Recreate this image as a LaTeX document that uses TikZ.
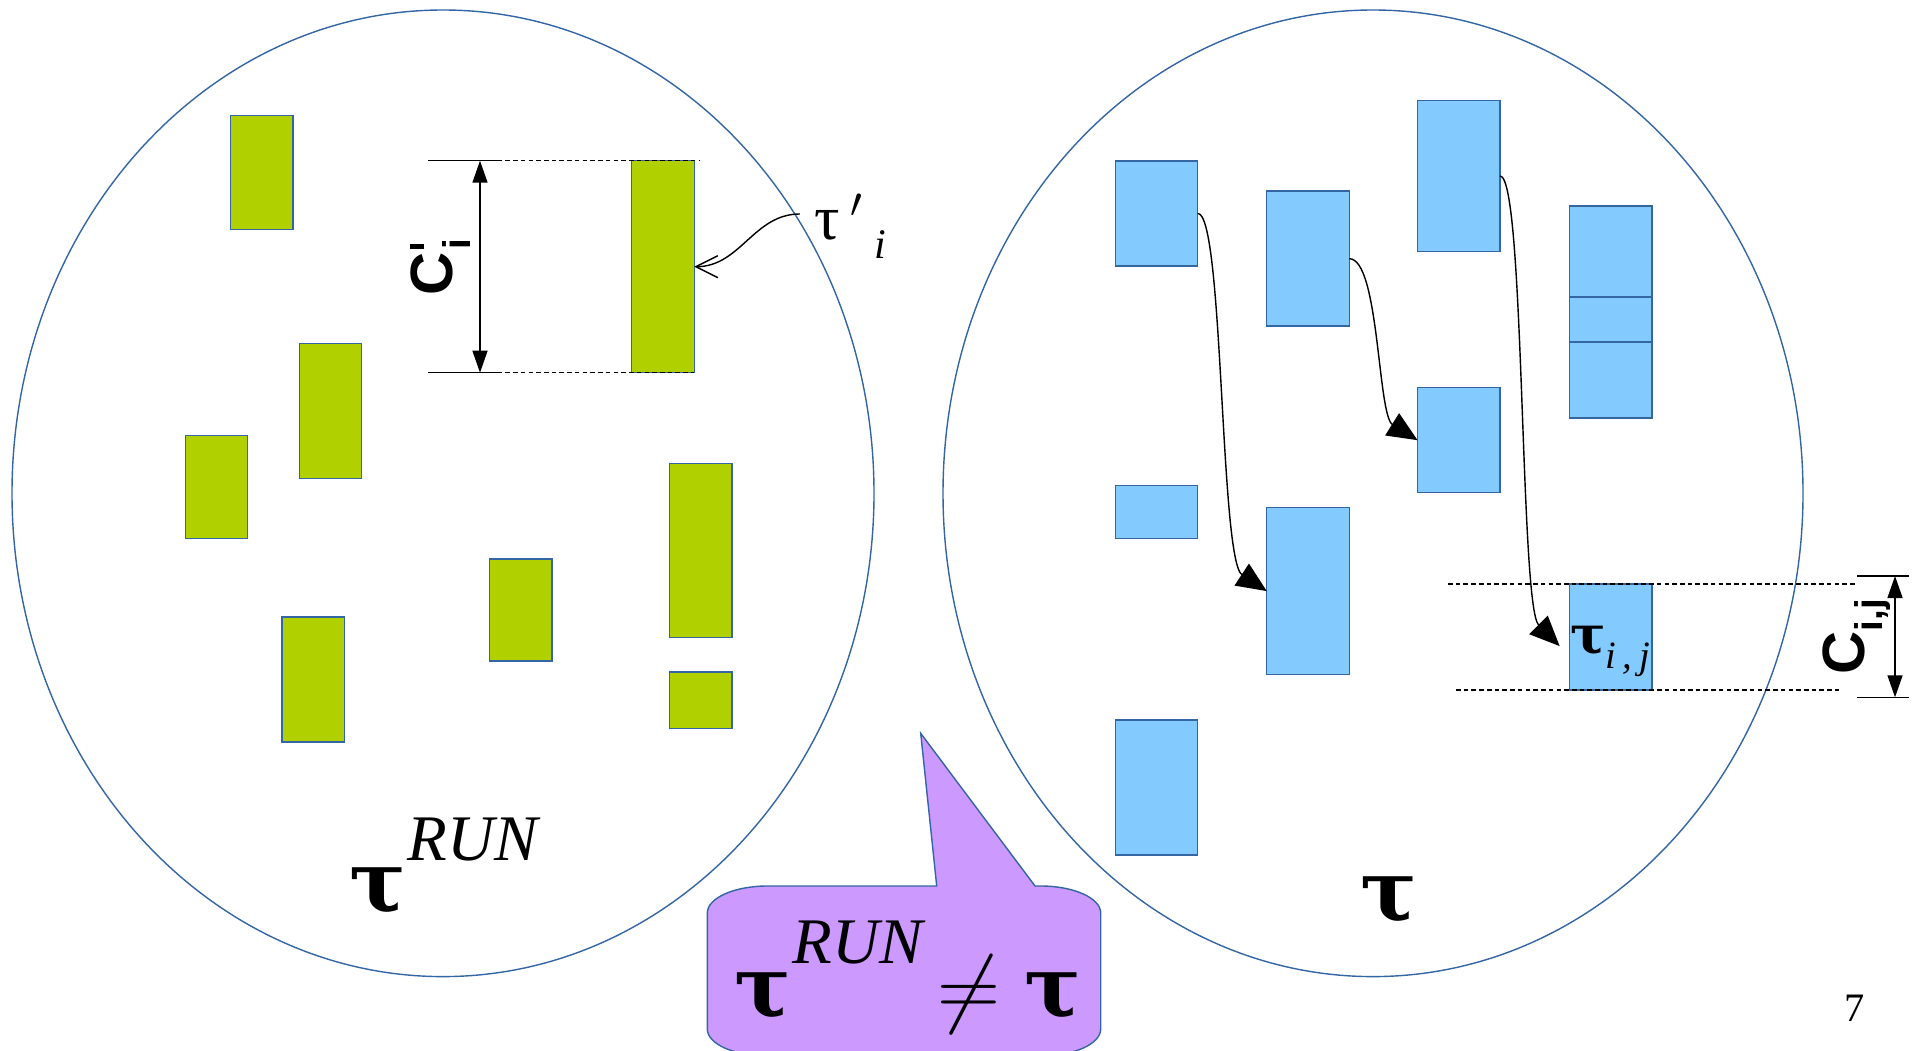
\documentclass[tikz,border=0pt]{standalone}
\usepackage{fontspec}
\setmainfont{Liberation Serif}
\setsansfont{Liberation Sans}
\newfontfamily\taufont{DejaVu Serif}
\usetikzlibrary{arrows.meta,positioning}
\definecolor{edge}{HTML}{3465A4}
\definecolor{leaf}{HTML}{B0D000}
\definecolor{sky}{HTML}{83CAFF}
\definecolor{lilac}{HTML}{CC99FF}

\begin{document}
\begin{tikzpicture}[
  gbox/.style={draw=edge,fill=leaf,minimum width=6.25mm,inner sep=0pt,outer sep=0pt},
  bbox/.style={draw=edge,fill=sky,minimum width=8.25mm,inner sep=0pt,outer sep=0pt},
  guide/.style={dash pattern=on 1.3pt off 0.9pt},
  flow/.style={-{Triangle[length=3mm,width=2.6mm]}},
  dim/.style={{Triangle[length=2.2mm,width=1.5mm]}-{Triangle[length=2.2mm,width=1.5mm]}}]
  \useasboundingbox (0,0) rectangle (19.23,10.5);
  % the two sets
  \draw[edge] (4.43,5.567) ellipse [x radius=4.31,y radius=4.833];
  \draw[edge] (13.73,5.567) ellipse [x radius=4.30,y radius=4.833];

  % green jobs
  \node[gbox,minimum height=11.4mm] (g1) at (2.619,8.777) {};
  \node[gbox,minimum height=21.2mm] (g2) at (6.63,7.833) {};
  \node[gbox,minimum height=13.5mm] (g3) at (3.305,6.392) {};
  \node[gbox,minimum height=10.3mm] (g4) at (2.165,5.631) {};
  \node[gbox,minimum height=17.4mm] (g5) at (7.009,4.994) {};
  \node[gbox,minimum height=10.2mm] (g6) at (5.206,4.399) {};
  \node[gbox,minimum height=12.5mm] (g7) at (3.134,3.706) {};
  \node[gbox,minimum height=5.65mm] (g8) at (7.009,3.497) {};

  % blue jobs
  \node[bbox,minimum height=10.5mm] (b1) at (11.565,8.366) {};
  \node[bbox,minimum height=13.5mm] (b2) at (13.08,7.913) {};
  \node[bbox,minimum height=15.1mm] (b3) at (14.588,8.74) {};
  \node[bbox,minimum height=9.1mm] (b4) at (16.109,7.985) {};
  \node[bbox,minimum height=4.5mm,below=0pt of b4] (b4m) {};
  \node[bbox,minimum height=7.6mm,below=0pt of b4m] (b4l) {};
  \node[bbox,minimum height=10.5mm] (b5) at (14.588,6.098) {};
  \node[bbox,minimum height=5.3mm] (b6) at (11.565,5.38) {};
  \node[bbox,minimum height=16.7mm] (b7) at (13.08,4.589) {};
  \node[bbox,minimum height=10.6mm] (b8) at (16.109,4.129) {};
  \node[bbox,minimum height=13.5mm] (b9) at (11.565,2.627) {};

  \draw[flow] (b1.east) .. controls +(0.26,0) and +(-0.47,0.31) .. (b7.west);
  \draw[flow] (b2.east) .. controls +(0.3,0) and +(-0.4,0.25) .. (b5.west);
  \draw[flow] (b3.east) .. controls +(0.25,0) and +(-0.4,0.4) .. ([xshift=-1mm,yshift=-0.9mm]b8.west);

  % C'_i
  \draw[guide] (4.28,0 |- g2.north) -- (6.99,0 |- g2.north);
  \draw[guide] (4.28,0 |- g2.south) -- (g2.south east);
  \draw (4.28,0 |- g2.north) -- ++(0.7,0);
  \draw (4.28,0 |- g2.south) -- ++(0.7,0);
  \draw[dim] (4.8,0 |- g2.north) -- (4.8,0 |- g2.south);
  \node[rotate=90,font=\sffamily\bfseries\fontsize{17}{17}\selectfont] (ci) at (4.40,7.83)
    {C\kern1pt\rlap{\rule[0.47em]{0.09em}{0.25em}}\raisebox{-0.3em}{\fontsize{11}{11}\selectfont i}};
  \node[font=\fontsize{18}{18}\selectfont] (tg2) at (8.50,8.24) {τ\,$'$\,\raisebox{-0.3em}{\fontsize{12}{12}\selectfont\itshape i}};
  \draw[-{Straight Barb[length=2.2mm,width=2.2mm]}] ([shift={(-0.2mm,1.2mm)}]tg2.west) to[out=180,in=0] (g2.east);

  % C_ij
  \draw[guide] (14.48,0 |- b8.north) -- (18.55,0 |- b8.north);
  \draw[guide] (14.56,0 |- b8.south) -- (18.42,0 |- b8.south);
  \draw (18.57,4.74) -- (19.09,4.74);
  \draw (18.57,3.527) -- (19.09,3.527);
  \draw[dim] (18.95,4.74) -- (18.95,3.527);
  \node[rotate=90,font=\sffamily\bfseries\fontsize{17}{17}\selectfont] (cij) at (18.57,4.135)
    {C\raisebox{-0.3em}{\fontsize{11}{11}\selectfont i,j}};
  \node[anchor=base,font=\fontsize{15}{15}\selectfont] (tb8) at (16.10,3.97)
    {{\taufont\bfseries τ}\raisebox{-0.3em}{\fontsize{11}{11}\selectfont\itshape i\,,\,j}};

  % set names
  \node[anchor=base west,font=\fontsize{24}{28}\selectfont] (run) at (3.37,1.383)
    {{\taufont\bfseries τ}\kern0.5pt\raisebox{14.7pt}{\fontsize{18.5}{20}\selectfont\itshape RUN}};
  \node[anchor=base,font=\fontsize{24}{28}\selectfont] (tset) at (13.89,1.30) {{\taufont\bfseries τ}};

  % callout
  \draw[edge,fill=lilac] (7.073,0.21) -- (7.073,1.37)
    arc[start angle=180,end angle=90,x radius=0.6,y radius=0.27] -- (9.367,1.64)
    -- (9.207,3.167) -- (10.35,1.64) -- (10.407,1.64)
    arc[start angle=90,end angle=0,x radius=0.6,y radius=0.27] -- (11.007,0.21)
    arc[start angle=0,end angle=-90,x radius=0.6,y radius=0.27] -- (7.673,-0.06)
    arc[start angle=270,end angle=180,x radius=0.6,y radius=0.27] -- cycle;
  \node[anchor=base west,font=\fontsize{24}{28}\selectfont] (neq) at (7.22,0.333)
    {{\taufont\bfseries τ}\kern0.5pt\raisebox{15.2pt}{\fontsize{18.5}{20}\selectfont\itshape RUN}\kern4pt{\fontsize{26}{28}\selectfont$\neq$}\kern7pt{\taufont\bfseries τ}};

  \node[font=\fontsize{11.5}{12}\selectfont] (pg) at (18.55,0.42) {7};
\end{tikzpicture}
\end{document}
